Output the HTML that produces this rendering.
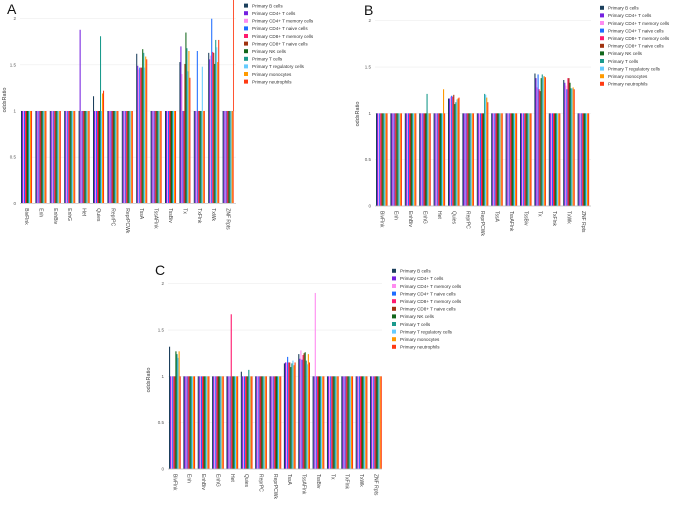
<!DOCTYPE html>
<html><head><meta charset="utf-8"><style>
html,body{margin:0;padding:0;background:#fff;}
svg{display:block;font-family:"Liberation Sans",sans-serif;}
</style></head><body>
<svg id="chart" width="685" height="505" viewBox="0 0 685 505" xmlns="http://www.w3.org/2000/svg"></svg>
<script>
const categories = ["BivFlnk","Enh","EnhBiv","EnhG","Het","Quies","ReprPC","ReprPCWk","TssA","TssAFlnk","TssBiv","Tx","TxFlnk","TxWk","ZNF Rpts"];
const seriesNames = ["Primary B cells","Primary CD4+ T cells","Primary CD4+ T memory cells","Primary CD4+ T naive cells","Primary CD8+ T memory cells","Primary CD8+ T naive cells","Primary NK cells","Primary T cells","Primary T regulatory cells","Primary monocytes","Primary neutrophils"];
const seriesColors = ["#1b3f5c","#7420e0","#ff8cf0","#1e6cff","#ff1a6e","#a0320f","#11661a","#1a9a8c","#66ccff","#ff9a00","#ff3a12"];
const yTicks = [0,0.5,1,1.5,2];
const yTickLabels = ["0","0.5","1","1.5","2"];
const valuesA = [
[1,1,1,1,1,1,1,1,1,1,1],[1,1,1,1,1,1,1,1,1,1,1],[1,1,1,1,1,1,1,1,1,1,1],[1,1,1,1,1,1,1,1,1,1,1],
[1,1.88,1,1,1,1,1,1,1,1,1],
[1.16,1,1,1,1,1,1,1.81,1,1.19,1.22],
[1,1,1,1,1,1,1,1,1,1,1],[1,1,1,1,1,1,1,1,1,1,1],
[1.62,1.49,1.45,1.47,1.47,1.47,1.67,1.63,1.47,1.59,1.56],
[1,1,1,1,1,1,1,1,1,1,1],[1,1,1,1,1,1,1,1,1,1,1],
[1.53,1.70,1.4,1,1,1.51,1.85,1.68,1.43,1.65,1.36],
[1,1,1,1.65,1,1,1,1,1.48,1,1],
[1.63,1.56,1.6,2.0,1.64,1.63,1.51,1.77,1.69,1.53,1.77],
[1,1,1,1,1,1,1,1,1,1,1]];
const valuesB = [
[1,1,1,1,1,1,1,1,1,1,1],[1,1,1,1,1,1,1,1,1,1,1],[1,1,1,1,1,1,1,1,1,1,1],
[1,1,1,1,1,1,1,1.21,1,1,1],
[1,1,1,1,1,1,1,1,1,1.26,1],
[1.16,1.16,1.18,1.19,1.18,1.2,1.1,1.12,1.15,1.16,1.17],
[1,1,1,1,1,1,1,1,1,1,1],
[1,1,1,1,1,1,1,1.21,1.2,1.17,1.12],
[1,1,1,1,1,1,1,1,1,1,1],[1,1,1,1,1,1,1,1,1,1,1],[1,1,1,1,1,1,1,1,1,1,1],
[1.43,1.38,1.28,1.42,1.26,1.24,1.38,1.42,1.4,1.4,1.39],
[1,1,1,1,1,1,1,1,1,1,1],
[1.36,1.33,1.3,1.26,1.38,1.38,1.33,1.27,1.27,1.28,1.26],
[1,1,1,1,1,1,1,1,1,1,1]];
const valuesC = [
[1.32,1,1,1,1,1,1.27,1.24,1.2,1.27,1],
[1,1,1,1,1,1,1,1,1,1,1],[1,1,1,1,1,1,1,1,1,1,1],[1,1,1,1,1,1,1,1,1,1,1],
[1,1,1,1,1.67,1,1,1,1,1,1],
[1.05,1,1,1,1,1,1,1.07,1,1,1],
[1,1,1,1,1,1,1,1,1,1,1],[1,1,1,1,1,1,1,1,1,1,1],
[1.14,1.15,1.15,1.21,1.15,1.15,1.1,1.14,1.17,1.12,1.15],
[1.24,1.19,1.28,1.18,1.23,1.25,1.26,1.17,1.13,1.24,1.15],
[1,1,1.9,1,1,1,1,1,1,1,1],
[1,1,1,1,1,1,1,1,1,1,1],[1,1,1,1,1,1,1,1,1,1,1],[1,1,1,1,1,1,1,1,1,1,1],[1,1,1,1,1,1,1,1,1,1,1]];

const NS="http://www.w3.org/2000/svg";
const svg=document.getElementById('chart');
function mk(tag,attrs,parent){const e=document.createElementNS(NS,tag);for(const k in attrs)e.setAttribute(k,attrs[k]);(parent||svg).appendChild(e);return e;}

function panel(letter,vals,p){
  const g=mk('g',{});
  
  
  const y=v=>p.y0-(v/2)*(p.y0-p.y2);
  const x=i=>p.x0+i*p.pitch;
  yTicks.forEach((t,i)=>{
    if(t>0){const gl=mk('line',{x1:p.ax0,x2:p.ax1,y1:y(t),y2:y(t),stroke:'#eeeeee','stroke-width':0.6},g);
      }
    const tl=mk('text',{x:p.ax0-4,y:y(t)+1.5,'font-size':4.5,fill:'#555','text-anchor':'end'},g);
    tl.textContent=yTickLabels[i];
    
  });
  const bw=p.gw/seriesNames.length;
  vals.forEach((row,ci)=>{
    row.forEach((v,si)=>{
      const top=Math.max(y(v),p.clipTop);
      const r=mk('rect',{x:x(ci)+si*bw,y:top,width:bw+0.05,height:p.y0-top,fill:seriesColors[si]},g);
      
      
    });
    const tx=x(ci)+p.gw/2-1.5, ty=p.y0+5;
    const lbl=mk('text',{x:tx,y:ty,'font-size':5,fill:'#444',transform:`rotate(90 ${tx} ${ty})`},g);
    lbl.textContent=categories[ci];
    
  });
  const ax=mk('line',{x1:p.ax0,x2:p.ax1,y1:p.y0,y2:p.y0,stroke:'#bbb','stroke-width':0.7},g);
  
  const yl=mk('text',{x:p.ylx,y:p.yly,'font-size':5.5,fill:'#444','text-anchor':'middle',transform:`rotate(-90 ${p.ylx} ${p.yly})`},g);
  yl.textContent='oddsRatio';
  
  const L=mk('text',{x:p.lx,y:p.ly,'font-size':14,fill:'#111'},g);
  L.textContent=letter;
  
  seriesNames.forEach((n,i)=>{
    const yy=p.legY+i*7.6;
    const sw=mk('rect',{x:p.legX,y:yy-2.2,width:4,height:4,fill:seriesColors[i]},g);
    
    const t=mk('text',{x:p.legX+8,y:yy+1.6,'font-size':4.6,fill:'#333'},g);
    t.textContent=n;
    
  });
}
panel('A',valuesA,{x0:21,pitch:14.4,gw:11,ax0:20,ax1:236,y0:203.3,y2:18.7,clipTop:0,ylx:6,yly:100,lx:7,ly:14,legX:244,legY:5.8});
panel('B',valuesB,{x0:376,pitch:14.4,gw:11.5,ax0:375,ax1:591,y0:206,y2:20.7,clipTop:0,ylx:359,yly:114,lx:364,ly:15,legX:600,legY:8});
panel('C',valuesC,{x0:169,pitch:14.36,gw:11.7,ax0:168,ax1:382,y0:469,y2:283.7,clipTop:250,ylx:150,yly:380,lx:155,ly:275,legX:392,legY:271});
const rl=mk('line',{x1:233.5,x2:233.5,y1:0,y2:111,stroke:'#ff5533','stroke-width':1});


</script>
</body></html>
